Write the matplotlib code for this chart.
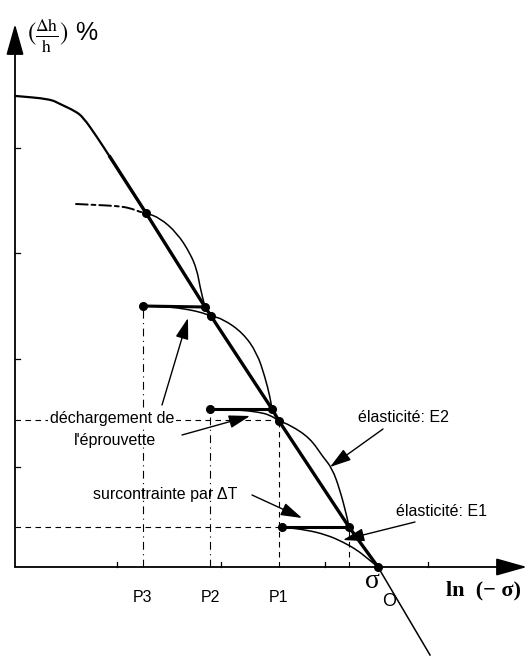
import matplotlib
matplotlib.use('Agg')
import matplotlib.pyplot as plt
from matplotlib.path import Path
from matplotlib.patches import PathPatch

plt.rcParams['font.family'] = ['Liberation Sans', 'DejaVu Sans']
plt.rcParams['mathtext.fontset'] = 'stix'

# courbe enveloppe (unites arbitraires, origine = croisement des axes)
env_x = [1, 35, 45, 60, 68, 82, 95, 131, 190, 196, 257, 264, 334, 363]
env_y = [471, 468, 463, 456, 450, 430, 410, 354, 260, 251, 158, 146, 40, 0]
tail_x = [363, 415]
tail_y = [0, -88]

# droite epaisse (pente limite)
thick_x = [95, 131, 190, 196, 257, 264, 334, 363]
thick_y = [410, 354, 260, 251, 158, 146, 40, 0]

# courbes elastiques
arc1_x = [131, 145, 162, 175, 182, 185, 190]
arc1_y = [354, 349, 334, 314, 297, 280, 260]
arc2_x = [196, 208, 228, 242, 250, 255, 257]
arc2_y = [251, 248, 234, 214, 190, 170, 158]
arc3_x = [264, 275, 295, 308, 317, 325, 332, 334]
arc3_y = [146, 142, 129, 110, 99, 77, 50, 40]
arc4_x = [267, 292, 312, 328, 342, 352, 363]
arc4_y = [40, 37, 32, 25, 17, 9, 0]

# courbe tiretee du haut
dash_x = [61, 82, 102, 115, 125, 131]
dash_y = [363, 362, 361, 359, 355, 354]

# decharges (P3, P2, P1)
unl_x = [[128, 190], [195, 257], [267, 334]]
unl_y = [[261, 260], [158, 158], [40, 40]]
dip3_x = [128, 155, 170, 185, 196]
dip3_y = [261, 260, 258, 255, 251]
dip2_x = [195, 225, 243, 255, 264]
dip2_y = [158, 157, 155, 152, 146]

dots_x = [131, 190, 196, 128, 257, 264, 195, 334, 267, 363]
dots_y = [354, 260, 251, 261, 158, 146, 158, 40, 40, 0]

p_labels = ['P3', 'P2', 'P1']
p_x = [128, 195, 264]
p_top = [261, 158, 146]

xticks = [102, 206, 310, 413]
yticks = [100, 208, 314, 419]


def smooth(ax, xs, ys, **kw):
    # trace lisse : beziers quadratiques passant par les milieux
    pts = list(zip(xs, ys))
    verts = [pts[0]]
    codes = [Path.MOVETO]
    if len(pts) > 2:
        mid = ((pts[0][0] + pts[1][0]) / 2, (pts[0][1] + pts[1][1]) / 2)
        verts.append(mid)
        codes.append(Path.LINETO)
        for i in range(1, len(pts) - 1):
            nxt = ((pts[i][0] + pts[i + 1][0]) / 2, (pts[i][1] + pts[i + 1][1]) / 2)
            verts += [pts[i], nxt]
            codes += [Path.CURVE3, Path.CURVE3]
    verts.append(pts[-1])
    codes.append(Path.LINETO)
    ax.add_patch(PathPatch(Path(verts, codes), fill=False, capstyle='round', **kw))


fig = plt.figure(figsize=(5.29, 6.65), dpi=100)
ax = fig.add_axes([0, 0, 1, 1])
ax.set_xlim(-15, 514)
ax.set_ylim(-98, 567)
ax.axis('off')

# axes avec fleches
ax.annotate('', xy=(0, 543), xytext=(0, 0),
            arrowprops=dict(arrowstyle='-|>,head_length=1.6,head_width=0.45',
                            mutation_scale=12, color='black', lw=1.3, shrinkA=0, shrinkB=0))
ax.annotate('', xy=(512, 0), xytext=(0, 0),
            arrowprops=dict(arrowstyle='-|>,head_length=1.6,head_width=0.45',
                            mutation_scale=12, color='black', lw=1.3, shrinkA=0, shrinkB=0))
for t in xticks:
    ax.plot([t, t], [0, 5], color='black', lw=0.9)
for t in yticks:
    ax.plot([0, 5], [t, t], color='black', lw=0.9)

# lignes de rappel
ax.plot([p_x[0], p_x[0]], [0, p_top[0]], color='black', lw=0.8, linestyle=(0, (7, 4, 1, 4)))
ax.plot([p_x[1], p_x[1]], [0, p_top[1]], color='black', lw=0.8, linestyle=(0, (7, 4, 1, 4)))
ax.plot([p_x[2], p_x[2]], [0, p_top[2]], color='black', lw=0.8, linestyle=(0, (5, 4)))
ax.plot([0, 264], [147, 147], color='black', lw=0.8, linestyle=(0, (5, 4)))
ax.plot([0, 267], [40, 40], color='black', lw=0.8, linestyle=(0, (5, 4)))
ax.plot([334, 334], [0, 40], color='black', lw=0.8, linestyle=(0, (5, 4)))

# courbes
smooth(ax, env_x[:8], env_y[:8], color='black', lw=1.6)
ax.plot(thick_x, thick_y, color='black', lw=2.4)
ax.plot(tail_x, tail_y, color='black', lw=1.1)
smooth(ax, dash_x, dash_y, color='black', lw=1.4, linestyle=(0, (6, 2, 2, 2)))
for cx, cy in [(arc1_x, arc1_y), (arc2_x, arc2_y), (arc3_x, arc3_y), (arc4_x, arc4_y),
               (dip3_x, dip3_y), (dip2_x, dip2_y)]:
    smooth(ax, cx, cy, color='black', lw=1.1)
for ux, uy in zip(unl_x, unl_y):
    ax.plot(ux, uy, color='black', lw=2.2)
ax.plot(dots_x, dots_y, 'o', color='black', markersize=5.5, linestyle='none')

# fleches d'annotation
arrow_kw = dict(arrowstyle='-|>,head_length=1.3,head_width=0.4', mutation_scale=10,
                color='black', lw=1.0, shrinkA=0, shrinkB=0)
ax.annotate('', xy=(173, 249), xytext=(147, 162), arrowprops=arrow_kw)
ax.annotate('', xy=(235, 151), xytext=(167, 132), arrowprops=arrow_kw)
ax.annotate('', xy=(287, 49), xytext=(237, 72), arrowprops=arrow_kw)
ax.annotate('', xy=(315, 100), xytext=(368, 138), arrowprops=arrow_kw)
ax.annotate('', xy=(328, 27), xytext=(400, 45), arrowprops=arrow_kw)

# textes
tkw = dict(fontsize=11.5, ha='center', va='center')
ax.text(97, 149, 'déchargement de', bbox=dict(fc='white', ec='none', pad=1), **tkw)
ax.text(100, 127, "l'éprouvette", **tkw)
ax.text(150, 73, 'surcontrainte par ΔT', **tkw)
ax.text(388, 149, 'élasticité: E2', **tkw)
ax.text(427, 55, 'élasticité: E1', **tkw)
for lab, px in zip(p_labels, p_x):
    ax.text(px, -31, lab, **tkw)

ax.text(357, -14, 'σ', fontsize=20, ha='center', va='center', family='Liberation Serif')
ax.text(374, -34, 'O', fontsize=13, ha='center', va='center', family='Liberation Sans')
ax.text(468, -23, 'ln  (− σ)', fontsize=16, ha='center', va='center',
        family='Liberation Serif', fontweight='bold')
ax.text(12, 531, r'$(\frac{\Delta \mathrm{h}}{\mathrm{h}})$ %', fontsize=18,
        ha='left', va='center')

plt.savefig('out.png', dpi=100)
plt.close()
